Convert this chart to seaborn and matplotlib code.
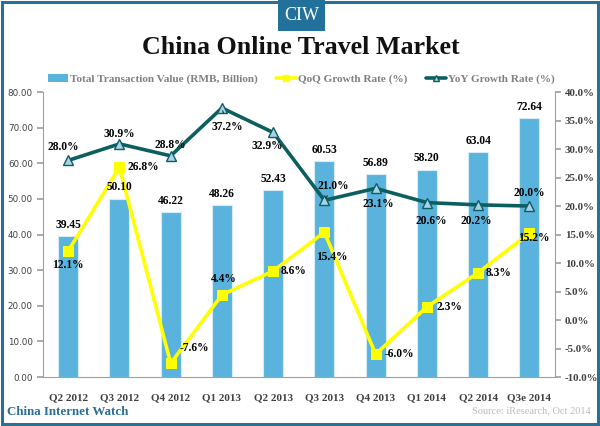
import seaborn as sns
import matplotlib.pyplot as plt
import numpy as np
import pandas as pd
from matplotlib.patches import Rectangle, Patch
from matplotlib.lines import Line2D

quarters = ["Q2 2012", "Q3 2012", "Q4 2012", "Q1 2013", "Q2 2013",
            "Q3 2013", "Q4 2013", "Q1 2014", "Q2 2014", "Q3e 2014"]
transaction_value = [39.45, 50.10, 46.22, 48.26, 52.43, 60.53, 56.89, 58.20, 63.04, 72.64]
qoq_growth = [12.1, 26.8, -7.6, 4.4, 8.6, 15.4, -6.0, 2.3, 8.3, 15.2]
yoy_growth = [28.0, 30.9, 28.8, 37.2, 32.9, 21.0, 23.1, 20.6, 20.2, 20.0]

BAR_COLOR = "#5ab3dc"
QOQ_COLOR = "#ffff00"
YOY_COLOR = "#0d5f5f"
FRAME_COLOR = "#2a6f97"
SERIF = ["Liberation Serif", "DejaVu Serif"]

# label offsets in points (dx, dy), and whether a leader line is drawn
qoq_offsets = [(0, -10), (17, 0), (17, 11), (1, 11.5), (15, 0),
               (5, -18), (17, 0), (16, 0), (15, 0), (3, -3)]
yoy_offsets = [(-3.5, 9.5), (0, 7), (0, 8), (4, -14), (-4, -10),
               (6.5, 10), (2, -11), (3, -13), (-1.5, -11.5), (0, 9.5)]
yoy_leaders = [False, False, False, True, False, True, False, False, False, False]

sns.set_theme(style="white")
plt.rcParams["font.family"] = SERIF

df = pd.DataFrame({"quarter": quarters, "value": transaction_value,
                   "qoq": qoq_growth, "yoy": yoy_growth})
df["pos"] = np.arange(len(df))

fig = plt.figure(figsize=(6, 4.26), dpi=100)
ax = fig.add_axes([0.071, 0.115, 0.854, 0.669])

sns.barplot(data=df, x="quarter", y="value", color=BAR_COLOR, saturation=1,
            width=0.39, edgecolor="#d6ecf7", linewidth=0.8, ax=ax)
ax.set_ylim(0, 80)
ax.set_xlim(-0.5, len(quarters) - 0.5)
ax.set_yticks(np.arange(0, 81, 10))
ax.set_yticklabels([f"{v:.2f}" for v in np.arange(0, 81, 10)],
                   family="DejaVu Sans", fontsize=6.3, color="#404040")
ax.set_xlabel("")
ax.set_ylabel("")
for lbl in ax.get_xticklabels():
    lbl.set_fontsize(8)
    lbl.set_fontweight("bold")
    lbl.set_color("#404040")

ax2 = ax.twinx()
sns.lineplot(data=df, x="pos", y="qoq", color=QOQ_COLOR, linewidth=2.6, marker="s",
             markersize=6.5, markeredgecolor=QOQ_COLOR, ax=ax2, zorder=3)
sns.lineplot(data=df, x="pos", y="yoy", color=YOY_COLOR, linewidth=2.6, marker="^",
             markersize=6.5, markerfacecolor="#a9d2ea", markeredgecolor=YOY_COLOR,
             markeredgewidth=1, ax=ax2, zorder=4)
ax2.set_ylim(-10, 40)
ax2.set_yticks(np.arange(-10, 41, 5))
ax2.set_yticklabels([f"{v:.1f}%" for v in np.arange(-10, 41, 5)],
                    fontsize=7.8, fontweight="bold", color="#404040")
ax2.set_xlabel("")
ax2.set_ylabel("")

# bar value labels drawn on top of the lines
for i, v in enumerate(transaction_value):
    ax2.annotate(f"{v:.2f}", (i, v), xycoords=ax.transData, xytext=(0, 4),
                 textcoords="offset points", ha="center", va="bottom",
                 fontsize=8.3, fontweight="bold", color="black", zorder=6)
for i, v in enumerate(qoq_growth):
    dx, dy = qoq_offsets[i]
    ax2.annotate(f"{v:.1f}%", (i, v), xytext=(dx, dy), textcoords="offset points",
                 ha="center", va="center", fontsize=8.3, fontweight="bold",
                 color="black", zorder=6)
for i, v in enumerate(yoy_growth):
    dx, dy = yoy_offsets[i]
    arrow = dict(arrowstyle="-", color="black", lw=0.6, shrinkA=4, shrinkB=2) if yoy_leaders[i] else None
    ax2.annotate(f"{v:.1f}%", (i, v), xytext=(dx, dy), textcoords="offset points",
                 ha="center", va="center", fontsize=8.3, fontweight="bold",
                 color="black", zorder=6, arrowprops=arrow)

for a in (ax, ax2):
    for side in ("top", "right", "left", "bottom"):
        a.spines[side].set_visible(False)
ax.spines["left"].set_visible(True)
ax.spines["bottom"].set_visible(True)
ax2.spines["right"].set_visible(True)
for sp in (ax.spines["left"], ax.spines["bottom"], ax2.spines["right"]):
    sp.set_color("#a0a0a0")
    sp.set_linewidth(0.8)
ax.tick_params(axis="y", left=True, length=4, color="#a0a0a0", pad=3)
ax.tick_params(axis="x", bottom=False, pad=6)
ax2.tick_params(axis="y", right=True, length=4, color="#a0a0a0", pad=3)

# legend
handles = [Patch(facecolor=BAR_COLOR, edgecolor="none"),
           Line2D([], [], color=QOQ_COLOR, lw=2.6, marker="s", markersize=5),
           Line2D([], [], color=YOY_COLOR, lw=2.6, marker="^", markersize=5,
                  markerfacecolor="#a9d2ea")]
labels = ["Total Transaction Value (RMB, Billion)", "QoQ Growth Rate (%)", "YoY Growth Rate (%)"]
leg = fig.legend(handles, labels, loc="center", bbox_to_anchor=(0.502, 1 - 79 / 426), ncol=3,
                 frameon=False, handlelength=1.8, handletextpad=0.2,
                 columnspacing=1.6, prop={"family": SERIF, "weight": "bold", "size": 8.1})
for t in leg.get_texts():
    t.set_color("#808080")

fig.text(0.502, 1 - 47 / 426, "China Online Travel Market", ha="center", va="center",
         fontsize=18.7, fontweight="bold", color="#111111")

# frame and header badge
fig.patches.append(Rectangle((0.003, 0.004), 0.994, 0.992, transform=fig.transFigure,
                             fill=False, edgecolor=FRAME_COLOR, linewidth=2.2))
fig.patches.append(Rectangle((278 / 600, 1 - 31 / 426), 47 / 600, 31 / 426,
                             transform=fig.transFigure, facecolor="#22719b",
                             edgecolor="none"))
fig.text(301.5 / 600, 1 - 16 / 426, "CIW", ha="center", va="center",
         fontsize=13, color="white")

fig.text(0.011, 1 - 412 / 426, "China Internet Watch", ha="left", va="center",
         fontsize=9.4, fontweight="bold", color=FRAME_COLOR)
fig.text(0.984, 1 - 411 / 426, "Source: iResearch, Oct 2014", ha="right", va="center",
         fontsize=7.5, color="#bbbbbb")

fig.savefig("out.png", dpi=100)
